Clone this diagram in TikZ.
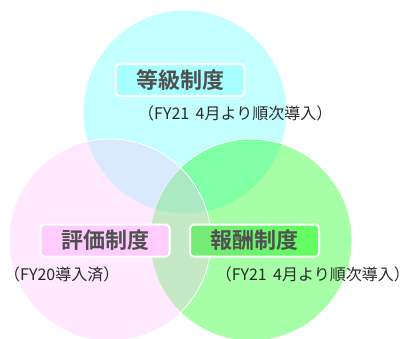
\documentclass[tikz,border=0pt]{standalone}
\usepackage{fontspec}
\usepackage{tikz}
\usetikzlibrary{positioning}
\usepackage{xcolor}
\setmainfont{Noto Sans CJK JP}[BoldFont={Noto Sans CJK JP Bold}]
\definecolor{GradeCyan}{HTML}{00FFFF}
\definecolor{PayGreen}{HTML}{00FF00}
\definecolor{EvalPink}{HTML}{FFC0FF}
\definecolor{GradeBox}{HTML}{A8FFFF}
\definecolor{EvalBox}{HTML}{FFCCFF}
\definecolor{PayBoxL}{HTML}{78E878}
\definecolor{PayBoxR}{HTML}{62FF62}
\definecolor{LabelGray}{HTML}{505050}
\definecolor{NoteGray}{HTML}{2A2A2A}

\begin{document}
\begin{tikzpicture}[x=1pt, y=-1pt,
    area/.style={circle, draw=white, line width=0.8pt, inner sep=0pt},
    label box/.style={draw=white, line width=2pt, rounded corners=4pt, minimum width=129pt, minimum height=32pt, inner sep=0pt, text=LabelGray, font=\fontsize{22}{22}\selectfont\bfseries},
    note/.style={inner sep=0pt, text=NoteGray, font=\fontsize{16}{16}\selectfont}]
    \useasboundingbox (0,0) rectangle (411,338);
    \node[area, fill=GradeCyan, fill opacity=0.23, minimum size=204pt] (grade) at (185,112) {};
    \node[area, fill=PayGreen, fill opacity=0.35, minimum size=202pt] (pay) at (251,240) {};
    \node[area, fill=EvalPink, fill opacity=0.35, minimum size=202pt] (eval) at (110,240) {};

    \node[label box, fill=GradeBox] (gradelabel) at (180,80) {等級制度};
    \node[label box, fill=EvalBox] (evallabel) at (105,240.5) {評価制度};
    \node[label box, left color=PayBoxL, right color=PayBoxR] (paylabel) at (254.5,240.5) {報酬制度};

    \node[note, anchor=west] (gradenote) at (138,113) {（FY21\hspace{0.4em}4月より順次導入）};
    \node[note, anchor=west] (evalnote) at (4,274) {（FY20導入済）};
    \node[note, anchor=east] (paynote) at (410,274) {（FY21\hspace{0.4em}4月より順次導入）};
\end{tikzpicture}
\end{document}
